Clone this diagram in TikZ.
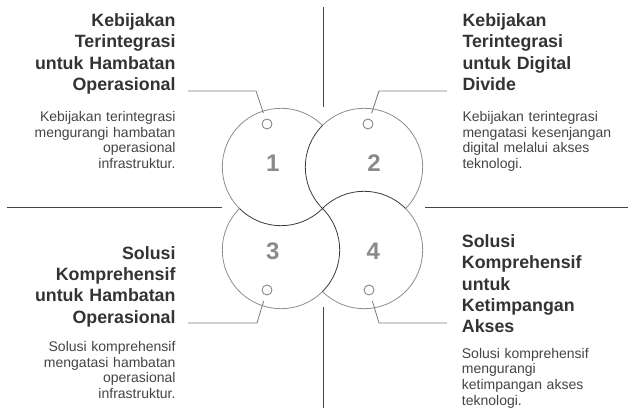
\documentclass[tikz,border=0pt]{standalone}
\usepackage{fontspec}
\setmainfont{Liberation Sans}
\usetikzlibrary{calc}
\definecolor{ringgray}{HTML}{8C8C8C}
\definecolor{ringdark}{HTML}{3A3A3A}
\definecolor{leadgray}{HTML}{7A7A7A}
\definecolor{rulegray}{HTML}{444444}
\definecolor{numgray}{HTML}{8A8A8A}
\definecolor{headcol}{HTML}{333333}
\definecolor{textcol}{HTML}{444444}
\newcommand{\RingR}{58.7pt}

\begin{document}
\begin{tikzpicture}[
  x=1pt, y=1pt,
  ring/.style={draw=ringgray, line width=0.8pt},
  ringfront/.style={draw=ringdark, line width=0.8pt},
  num/.style={text=numgray, font=\fontsize{24}{24}\selectfont\bfseries, inner sep=0pt},
  dot/.style={circle, draw=leadgray, line width=0.8pt, minimum size=10pt, inner sep=0pt},
  lead/.style={draw=leadgray, line width=0.8pt, shorten <=6pt},
  divider/.style={draw=rulegray, line width=0.9pt},
  head/.style={text=headcol, font=\fontsize{17.8}{21.3}\selectfont\bfseries, inner sep=0pt, text width=160pt},
  body/.style={text=textcol, font=\fontsize{14}{15.6}\selectfont, inner sep=0pt, text width=160pt}
]
\useasboundingbox (0,0) rectangle (629,414);

% ring centres
\coordinate (c1) at (281,247);
\coordinate (c2) at (364,247);
\coordinate (c3) at (281,164);
\coordinate (c4) at (364,164);

% woven rings: back part grey, front part dark
\draw[ring] (c1) ++(45:\RingR) arc[start angle=45, end angle=225, radius=\RingR];
\draw[ringfront] (c1) ++(225:\RingR) arc[start angle=225, end angle=315, radius=\RingR];
\draw[ring] (c2) ++(-45:\RingR) arc[start angle=-45, end angle=135, radius=\RingR];
\draw[ringfront] (c2) ++(135:\RingR) arc[start angle=135, end angle=225, radius=\RingR];
\draw[ring] (c4) ++(-135:\RingR) arc[start angle=-135, end angle=45, radius=\RingR];
\draw[ringfront] (c4) ++(45:\RingR) arc[start angle=45, end angle=135, radius=\RingR];
\draw[ring] (c3) ++(135:\RingR) arc[start angle=135, end angle=315, radius=\RingR];
\draw[ringfront] (c3) ++(-45:\RingR) arc[start angle=-45, end angle=45, radius=\RingR];

\node[num] (n1) at (272.7,251) {1};
\node[num] (n2) at (374,251) {2};
\node[num] (n3) at (272.7,162.3) {3};
\node[num] (n4) at (373.3,162.3) {4};

% dividers
\draw[divider] (323.3,407.3) -- (323.3,307);
\draw[divider] (323.3,107) -- (323.3,6);
\draw[divider] (6.7,206.7) -- (221.7,206.7);
\draw[divider] (425,206.7) -- (628,206.7);

% markers and leaders
\node[dot] (dot1) at (267,290) {};
\node[dot] (dot2) at (368,290) {};
\node[dot] (dot3) at (267,124) {};
\node[dot] (dot4) at (369,124) {};
\coordinate (k1) at (256,323);
\coordinate (k2) at (379,323);
\coordinate (k3) at (257,91);
\coordinate (k4) at (379,91);
\coordinate (e1) at (188,323);
\coordinate (e2) at (447,323);
\coordinate (e3) at (188,91);
\coordinate (e4) at (447,91);
\draw[lead] (dot1) -- (k1) -- (e1);
\draw[lead] (dot2) -- (k2) -- (e2);
\draw[lead] (dot3) -- (k3) -- (e3);
\draw[lead] (dot4) -- (k4) -- (e4);

% texts
\node[head, align=right, anchor=base east] (h1) at (175.7,387.3) {Kebijakan\\Terintegrasi\\untuk Hambatan\\Operasional};
\node[body, align=right, anchor=base east] (b1) at (175.7,292.3) {Kebijakan terintegrasi\\mengurangi hambatan\\operasional\\infrastruktur.};
\node[head, align=left, anchor=base west] (h2) at (462.3,387.3) {Kebijakan\\Terintegrasi\\untuk Digital\\Divide};
\node[body, align=left, anchor=base west] (b2) at (462.3,292.3) {Kebijakan terintegrasi\\mengatasi kesenjangan\\digital melalui akses\\teknologi.};
\node[head, align=right, anchor=base east] (h3) at (175.7,154.7) {Solusi\\Komprehensif\\untuk Hambatan\\Operasional};
\node[body, align=right, anchor=base east] (b3) at (175.7,62.3) {Solusi komprehensif\\mengatasi hambatan\\operasional\\infrastruktur.};
\node[head, align=left, anchor=base west] (h4) at (461.7,166.5) {Solusi\\Komprehensif\\untuk\\Ketimpangan\\Akses};
\node[body, align=left, anchor=base west] (b4) at (461.7,55.7) {Solusi komprehensif\\mengurangi\\ketimpangan akses\\teknologi.};
\end{tikzpicture}
\end{document}
